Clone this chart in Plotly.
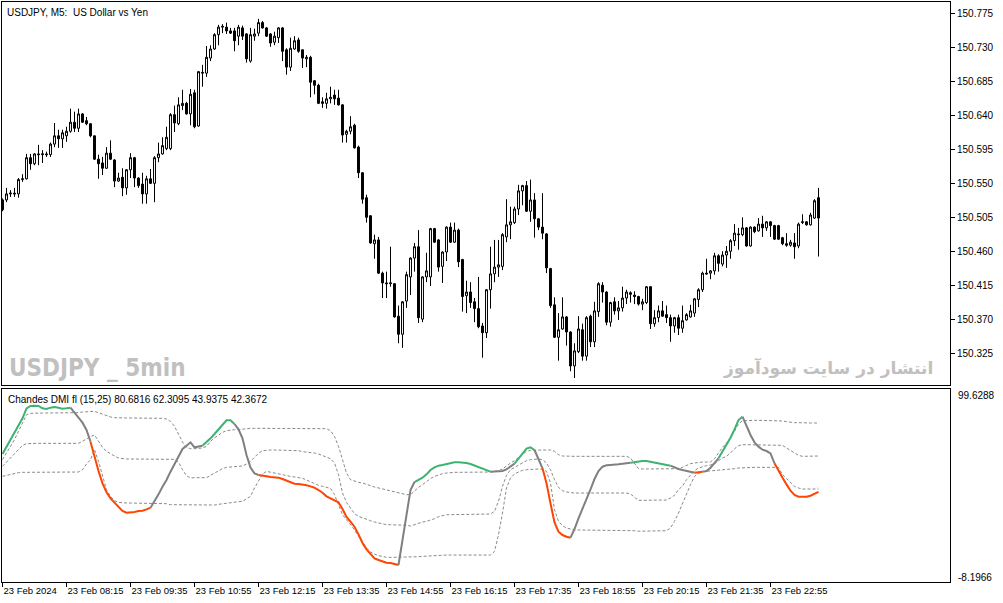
import plotly.graph_objects as go

# USDJPY M5, 23 Feb 2024, 06:55 .. 23:55
open_prices = [
    150.528, 150.528, 150.536, 150.537, 150.536, 150.555, 150.556, 150.584, 150.576, 150.589,
    150.588, 150.589, 150.588, 150.602, 150.613, 150.609, 150.613, 150.619, 150.631, 150.623,
    150.642, 150.633, 150.629, 150.613, 150.582, 150.577, 150.570, 150.590, 150.581, 150.553,
    150.558, 150.544, 150.568, 150.584, 150.557, 150.549, 150.536, 150.556, 150.550, 150.584,
    150.589, 150.596, 150.596, 150.641, 150.629, 150.653, 150.656, 150.642, 150.670, 150.626,
    150.696, 150.696, 150.716, 150.728, 150.747, 150.757, 150.757, 150.752, 150.752, 150.745,
    150.756, 150.748, 150.712, 150.745, 150.749, 150.763, 150.756, 150.748, 150.737, 150.743,
    150.756, 150.727, 150.704, 150.728, 150.740, 150.727, 150.715, 150.717, 150.686, 150.680,
    150.658, 150.656, 150.662, 150.667, 150.663, 150.654, 150.615, 150.619, 150.627, 150.598,
    150.564, 150.531, 150.507, 150.470, 150.475, 150.431, 150.418, 150.417, 150.417, 150.374,
    150.350, 150.394, 150.426, 150.451, 150.466, 150.370, 150.426, 150.426, 150.490, 150.475,
    150.440, 150.459, 150.492, 150.472, 150.488, 150.449, 150.401, 150.406, 150.393, 150.384,
    150.361, 150.352, 150.409, 150.430, 150.439, 150.440, 150.479, 150.495, 150.498, 150.516,
    150.540, 150.547, 150.513, 150.528, 150.503, 150.492, 150.483, 150.437, 150.389, 150.346,
    150.357, 150.373, 150.353, 150.308, 150.327, 150.356, 150.321, 150.374, 150.340, 150.380,
    150.415, 150.406, 150.366, 150.393, 150.381, 150.385, 150.398, 150.405, 150.402, 150.400,
    150.390, 150.392, 150.413, 150.364, 150.372, 150.381, 150.376, 150.372, 150.361, 150.372,
    150.358, 150.369, 150.373, 150.378, 150.396, 150.409, 150.431, 150.431, 150.434, 150.454,
    150.443, 150.455, 150.460, 150.474, 150.483, 150.482, 150.491, 150.467, 150.492, 150.487,
    150.496, 150.491, 150.499, 150.494, 150.494, 150.478, 150.470, 150.468, 150.471, 150.467,
    150.498, 150.499, 150.495, 150.504, 150.531,
]
high_prices = [
    150.530, 150.544, 150.541, 150.544, 150.557, 150.562, 150.589, 150.589, 150.590, 150.601,
    150.594, 150.592, 150.604, 150.630, 150.621, 150.621, 150.625, 150.649, 150.645, 150.649,
    150.643, 150.638, 150.630, 150.613, 150.588, 150.585, 150.598, 150.607, 150.582, 150.564,
    150.570, 150.569, 150.590, 150.585, 150.558, 150.564, 150.560, 150.569, 150.586, 150.604,
    150.611, 150.625, 150.643, 150.653, 150.664, 150.674, 150.658, 150.675, 150.674, 150.699,
    150.707, 150.732, 150.733, 150.749, 150.760, 150.761, 150.763, 150.756, 150.756, 150.760,
    150.759, 150.749, 150.756, 150.755, 150.768, 150.765, 150.757, 150.749, 150.751, 150.757,
    150.757, 150.729, 150.743, 150.745, 150.743, 150.727, 150.720, 150.719, 150.687, 150.682,
    150.664, 150.670, 150.678, 150.674, 150.674, 150.655, 150.621, 150.639, 150.629, 150.600,
    150.565, 150.535, 150.508, 150.482, 150.479, 150.433, 150.433, 150.466, 150.418, 150.388,
    150.394, 150.433, 150.452, 150.471, 150.488, 150.427, 150.458, 150.491, 150.491, 150.476,
    150.460, 150.493, 150.498, 150.498, 150.490, 150.450, 150.421, 150.419, 150.398, 150.426,
    150.365, 150.410, 150.466, 150.475, 150.475, 150.484, 150.529, 150.519, 150.519, 150.548,
    150.548, 150.553, 150.555, 150.537, 150.504, 150.537, 150.484, 150.438, 150.399, 150.378,
    150.399, 150.374, 150.354, 150.338, 150.374, 150.364, 150.374, 150.376, 150.393, 150.419,
    150.419, 150.407, 150.393, 150.399, 150.394, 150.413, 150.409, 150.407, 150.407, 150.401,
    150.397, 150.414, 150.414, 150.382, 150.388, 150.394, 150.388, 150.376, 150.373, 150.376,
    150.388, 150.378, 150.389, 150.398, 150.411, 150.433, 150.450, 150.435, 150.458, 150.456,
    150.460, 150.467, 150.476, 150.496, 150.491, 150.505, 150.492, 150.493, 150.493, 150.504,
    150.507, 150.500, 150.500, 150.495, 150.495, 150.479, 150.484, 150.475, 150.484, 150.498,
    150.509, 150.500, 150.511, 150.529, 150.544,
]
low_prices = [
    150.513, 150.525, 150.532, 150.532, 150.531, 150.552, 150.555, 150.568, 150.574, 150.574,
    150.577, 150.585, 150.585, 150.598, 150.597, 150.597, 150.605, 150.617, 150.618, 150.618,
    150.630, 150.627, 150.611, 150.581, 150.556, 150.561, 150.569, 150.581, 150.545, 150.552,
    150.533, 150.535, 150.557, 150.545, 150.544, 150.523, 150.523, 150.549, 150.525, 150.578,
    150.588, 150.594, 150.594, 150.618, 150.627, 150.647, 150.641, 150.627, 150.623, 150.625,
    150.678, 150.691, 150.712, 150.727, 150.733, 150.749, 150.748, 150.748, 150.725, 150.733,
    150.740, 150.710, 150.710, 150.739, 150.745, 150.755, 150.744, 150.731, 150.733, 150.736,
    150.712, 150.694, 150.699, 150.727, 150.723, 150.703, 150.704, 150.664, 150.668, 150.655,
    150.650, 150.649, 150.656, 150.654, 150.653, 150.604, 150.604, 150.615, 150.596, 150.557,
    150.523, 150.498, 150.470, 150.450, 150.430, 150.398, 150.398, 150.413, 150.372, 150.338,
    150.332, 150.385, 150.402, 150.433, 150.365, 150.366, 150.419, 150.414, 150.471, 150.433,
    150.418, 150.447, 150.471, 150.471, 150.439, 150.380, 150.378, 150.385, 150.366, 150.358,
    150.319, 150.345, 150.384, 150.419, 150.426, 150.435, 150.472, 150.476, 150.496, 150.508,
    150.521, 150.512, 150.499, 150.478, 150.488, 150.476, 150.431, 150.385, 150.345, 150.315,
    150.356, 150.335, 150.301, 150.292, 150.325, 150.315, 150.315, 150.333, 150.333, 150.373,
    150.392, 150.362, 150.360, 150.376, 150.369, 150.380, 150.390, 150.392, 150.390, 150.388,
    150.382, 150.390, 150.357, 150.360, 150.366, 150.373, 150.365, 150.340, 150.352, 150.349,
    150.352, 150.368, 150.372, 150.373, 150.386, 150.406, 150.429, 150.423, 150.429, 150.433,
    150.440, 150.438, 150.450, 150.467, 150.462, 150.480, 150.466, 150.466, 150.484, 150.486,
    150.479, 150.487, 150.479, 150.475, 150.475, 150.468, 150.466, 150.466, 150.450, 150.464,
    150.496, 150.494, 150.494, 150.503, 150.453,
]
close_prices = [
    150.515, 150.536, 150.537, 150.536, 150.555, 150.556, 150.584, 150.576, 150.589, 150.588,
    150.589, 150.588, 150.602, 150.613, 150.609, 150.617, 150.619, 150.631, 150.623, 150.642,
    150.631, 150.629, 150.613, 150.582, 150.576, 150.570, 150.590, 150.582, 150.553, 150.557,
    150.544, 150.568, 150.584, 150.557, 150.547, 150.536, 150.556, 150.550, 150.584, 150.589,
    150.600, 150.611, 150.641, 150.630, 150.654, 150.656, 150.642, 150.668, 150.625, 150.698,
    150.697, 150.717, 150.728, 150.747, 150.757, 150.758, 150.752, 150.749, 150.739, 150.757,
    150.745, 150.715, 150.747, 150.748, 150.763, 150.756, 150.745, 150.736, 150.745, 150.756,
    150.725, 150.704, 150.729, 150.739, 150.725, 150.716, 150.717, 150.684, 150.680, 150.656,
    150.656, 150.662, 150.664, 150.662, 150.654, 150.614, 150.619, 150.625, 150.597, 150.564,
    150.529, 150.505, 150.471, 150.475, 150.431, 150.418, 150.417, 150.418, 150.373, 150.350,
    150.393, 150.429, 150.451, 150.466, 150.372, 150.426, 150.434, 150.490, 150.472, 150.439,
    150.459, 150.492, 150.472, 150.488, 150.446, 150.400, 150.406, 150.392, 150.384, 150.360,
    150.352, 150.409, 150.430, 150.439, 150.442, 150.482, 150.495, 150.499, 150.516, 150.540,
    150.547, 150.513, 150.528, 150.503, 150.492, 150.484, 150.438, 150.388, 150.346, 150.356,
    150.373, 150.353, 150.308, 150.328, 150.357, 150.321, 150.372, 150.340, 150.381, 150.417,
    150.406, 150.366, 150.392, 150.381, 150.385, 150.398, 150.406, 150.403, 150.400, 150.390,
    150.393, 150.413, 150.364, 150.372, 150.381, 150.374, 150.372, 150.361, 150.372, 150.358,
    150.368, 150.376, 150.381, 150.397, 150.409, 150.431, 150.430, 150.434, 150.454, 150.444,
    150.455, 150.460, 150.474, 150.484, 150.482, 150.491, 150.467, 150.492, 150.486, 150.496,
    150.491, 150.499, 150.494, 150.476, 150.476, 150.470, 150.468, 150.472, 150.466, 150.496,
    150.499, 150.495, 150.508, 150.527, 150.504,
]

# Chande DMI with floating levels (15,25)
dmi_main = [
    63.42, 67.51, 71.22, 74.93, 79.20, 83.29, 88.86, 90.16, 90.35, 90.16,
    88.86, 88.49, 89.23, 89.60, 89.23, 88.68, 88.86, 89.23, 86.63, 84.03,
    80.88, 76.79, 70.29, 61.38, 53.95, 47.08, 42.06, 38.72, 36.49, 33.89,
    31.67, 30.74, 30.74, 31.11, 31.67, 31.85, 32.59, 33.52, 36.86, 40.95,
    45.22, 48.94, 53.58, 58.03, 62.49, 66.21, 68.06, 69.92, 67.13, 67.51,
    68.06, 69.92, 72.15, 74.56, 77.16, 80.13, 82.18, 82.18, 80.13, 77.16,
    72.15, 62.86, 55.81, 52.65, 51.72, 51.54, 50.98, 50.61, 50.42, 50.24,
    49.49, 48.56, 47.45, 46.89, 46.71, 46.52, 45.96, 45.41, 44.66, 43.36,
    41.88, 39.84, 38.72, 37.79, 36.49, 32.78, 28.32, 25.72, 22.94, 18.67,
    13.84, 10.31, 7.52, 5.30, 4.37, 3.44, 2.88, 2.70, 2.32, 1.58,
    16.44, 30.37, 43.36, 47.82, 48.94, 50.24, 52.09, 54.51, 55.99, 56.92,
    57.29, 57.85, 58.41, 58.78, 58.78, 58.78, 58.41, 57.85, 56.92, 56.18,
    55.25, 54.14, 53.58, 53.58, 53.58, 53.95, 54.88, 56.36, 58.03, 60.63,
    63.79, 66.39, 67.13, 65.65, 60.63, 55.43, 47.08, 35.94, 25.35, 20.15,
    18.29, 17.37, 16.81, 21.64, 27.58, 32.78, 37.79, 43.74, 49.49, 53.95,
    56.36, 57.11, 57.29, 57.29, 57.66, 58.03, 58.41, 58.59, 58.96, 59.33,
    59.52, 59.52, 59.15, 58.78, 58.41, 58.03, 57.48, 56.92, 55.81, 55.06,
    54.51, 53.95, 53.39, 53.02, 53.21, 53.58, 53.95, 55.81, 58.22, 61.01,
    64.72, 68.43, 72.52, 77.16, 82.36, 84.22, 78.65, 74.00, 69.92, 67.51,
    65.83, 65.09, 63.79, 58.22, 53.95, 50.24, 46.52, 42.99, 40.58, 39.65,
    39.65, 39.65, 40.21, 41.32, 42.37,
]
upper_level = [
    60.26, 63.98, 67.69, 71.41, 76.05, 80.69, 85.33, 86.08, 86.26, 86.26,
    86.26, 86.26, 86.26, 86.26, 86.26, 86.26, 86.26, 86.26, 86.26, 86.45,
    86.82, 87.01, 87.19, 87.19, 86.45, 85.52, 84.59, 84.03, 83.66, 83.48,
    83.48, 83.48, 83.48, 83.48, 83.48, 83.48, 83.29, 83.29, 83.29, 83.29,
    83.29, 82.92, 81.62, 78.83, 74.56, 70.11, 67.14, 66.39, 66.39, 66.58,
    66.76, 67.69, 70.48, 72.33, 74.01, 75.49, 76.42, 76.79, 76.98, 76.98,
    77.35, 77.72, 77.72, 77.72, 77.72, 77.72, 77.72, 77.72, 77.72, 77.72,
    77.72, 77.53, 77.53, 77.53, 77.53, 77.53, 77.53, 77.53, 77.53, 77.53,
    77.53, 77.53, 76.42, 73.26, 67.69, 60.26, 52.84, 49.12, 48.19, 47.64,
    47.27, 46.34, 45.78, 45.04, 44.48, 43.92, 43.37, 42.99, 42.25, 41.69,
    41.14, 40.77, 40.77, 42.99, 44.85, 46.34, 48.19, 49.68, 50.98, 51.91,
    52.47, 52.84, 53.21, 53.21, 53.21, 53.21, 53.21, 53.21, 53.39, 53.39,
    53.39, 53.39, 53.39, 53.76, 54.14, 55.06, 56.92, 58.41, 59.71, 61.56,
    63.42, 64.91, 65.46, 65.65, 65.65, 65.65, 65.65, 65.65, 64.91, 63.05,
    62.31, 62.12, 62.12, 62.12, 62.12, 62.12, 62.12, 62.12, 62.12, 62.12,
    62.12, 62.12, 62.12, 62.12, 62.12, 62.12, 62.12, 61.19, 58.41, 55.25,
    55.06, 55.06, 55.06, 55.06, 55.06, 55.06, 55.06, 55.25, 55.25, 55.25,
    55.99, 56.92, 58.04, 58.41, 58.78, 58.96, 58.96, 58.96, 60.82, 64.35,
    67.14, 69.55, 72.33, 76.05, 80.13, 81.99, 82.18, 82.18, 82.18, 82.18,
    82.18, 82.18, 82.18, 82.18, 82.18, 81.81, 81.43, 81.06, 80.88, 80.88,
    80.69, 80.69, 80.69, 80.69, 80.68,
]
middle_level = [
    56.55, 58.96, 61.56, 63.98, 66.21, 68.25, 69.18, 69.36, 69.36, 69.36,
    69.36, 69.36, 69.36, 69.36, 69.36, 69.36, 69.36, 69.36, 69.36, 69.36,
    70.48, 71.96, 73.08, 74.01, 70.85, 67.14, 64.91, 63.42, 62.31, 61.19,
    60.82, 60.64, 60.64, 60.64, 60.64, 60.64, 60.64, 60.64, 60.45, 60.45,
    60.45, 60.45, 60.45, 60.45, 58.96, 54.69, 51.35, 50.05, 50.24, 50.24,
    50.24, 50.24, 51.54, 52.84, 54.32, 55.25, 55.99, 56.18, 56.36, 56.55,
    56.74, 57.85, 59.34, 61.56, 63.79, 65.28, 65.65, 65.65, 65.65, 65.65,
    65.65, 65.28, 65.28, 65.28, 65.28, 64.72, 64.54, 64.35, 63.98, 63.42,
    62.68, 61.75, 60.82, 58.41, 51.91, 41.69, 36.49, 33.34, 30.18, 28.70,
    27.77, 26.84, 26.28, 25.54, 24.98, 24.42, 24.05, 24.05, 24.05, 24.05,
    24.05, 23.68, 23.31, 24.05, 24.98, 25.54, 25.91, 26.47, 27.40, 28.51,
    29.25, 29.62, 29.62, 29.62, 29.62, 29.62, 29.62, 29.62, 29.62, 29.62,
    29.62, 29.62, 30.00, 31.48, 37.05, 45.41, 51.54, 54.69, 55.99, 57.48,
    58.59, 59.71, 60.26, 60.45, 60.64, 60.26, 58.41, 54.69, 49.12, 44.85,
    42.99, 42.25, 41.88, 41.69, 41.69, 41.69, 41.69, 41.69, 41.69, 41.69,
    41.69, 41.69, 41.69, 41.69, 41.69, 41.69, 41.69, 41.14, 39.28, 37.61,
    37.61, 37.61, 37.61, 37.61, 37.61, 37.61, 37.80, 38.91, 40.39, 43.55,
    45.59, 49.12, 51.91, 54.14, 55.62, 56.36, 56.92, 57.29, 58.04, 59.71,
    61.19, 62.12, 63.98, 66.39, 68.06, 68.62, 68.62, 68.62, 68.62, 68.62,
    68.62, 68.62, 68.62, 68.62, 68.62, 68.25, 66.76, 65.28, 63.98, 62.68,
    62.12, 62.12, 62.12, 62.12, 62.31,
]
lower_level = [
    50.98, 51.54, 52.09, 52.47, 53.02, 53.21, 53.21, 53.21, 53.21, 53.21,
    53.21, 53.21, 53.21, 53.21, 53.21, 53.21, 53.21, 53.21, 53.21, 53.39,
    54.69, 57.85, 60.27, 65.84, 59.34, 50.98, 43.55, 39.84, 37.42, 36.49,
    36.12, 36.12, 36.12, 36.12, 36.12, 36.12, 36.12, 36.12, 36.12, 36.12,
    36.12, 35.75, 35.19, 35.19, 35.19, 35.19, 35.19, 35.19, 34.82, 34.82,
    34.82, 34.82, 34.82, 35.01, 35.38, 35.75, 36.12, 36.31, 36.68, 36.87,
    37.05, 38.35, 39.84, 44.48, 48.56, 52.28, 53.76, 53.39, 53.02, 52.47,
    51.91, 51.35, 50.98, 50.61, 50.24, 49.86, 48.94, 47.82, 46.71, 45.97,
    45.41, 44.85, 44.29, 40.77, 35.19, 29.62, 26.84, 24.05, 21.27, 17.55,
    14.77, 11.05, 8.83, 7.71, 6.78, 6.41, 5.85, 5.85, 5.85, 5.85,
    5.85, 5.85, 5.85, 5.85, 6.22, 6.41, 6.60, 6.78, 6.97, 7.15,
    7.15, 7.15, 7.15, 7.15, 7.15, 7.15, 7.15, 7.15, 7.15, 7.15,
    7.15, 7.15, 7.15, 9.20, 18.48, 30.55, 44.48, 50.05, 52.28, 53.39,
    54.32, 54.69, 54.88, 55.06, 55.06, 54.88, 53.76, 47.27, 32.41, 25.91,
    23.50, 22.20, 21.64, 21.10, 21.10, 21.10, 21.10, 21.10, 21.10, 21.10,
    21.10, 21.10, 21.10, 21.10, 21.10, 21.10, 21.10, 21.10, 20.71, 20.40,
    20.40, 20.40, 20.40, 20.40, 20.40, 20.40, 20.71, 22.20, 25.91, 30.55,
    36.12, 41.69, 46.34, 50.98, 52.65, 53.58, 53.76, 53.95, 54.14, 54.32,
    54.51, 54.69, 54.88, 55.25, 55.62, 55.81, 55.99, 55.99, 55.99, 55.99,
    55.99, 55.99, 55.99, 55.99, 55.99, 51.91, 49.68, 47.27, 45.41, 44.48,
    43.92, 43.92, 43.92, 43.92, 43.94,
]
# line colour state, as (state, number of bars)
trend_runs = [
    ("up", 18), ("flat", 5), ("down", 15), ("flat", 13), ("up", 8), ("flat", 6),
    ("down", 35), ("flat", 4), ("up", 19), ("flat", 6), ("up", 5), ("flat", 2),
    ("down", 7), ("flat", 15), ("up", 10), ("flat", 6), ("down", 2), ("flat", 4),
    ("up", 6), ("flat", 8), ("down", 11),
]

time_labels = ["23 Feb 2024", "23 Feb 08:15", "23 Feb 09:35", "23 Feb 10:55",
               "23 Feb 12:15", "23 Feb 13:35", "23 Feb 14:55", "23 Feb 16:15",
               "23 Feb 17:35", "23 Feb 18:55", "23 Feb 20:15", "23 Feb 21:35",
               "23 Feb 22:55"]
price_ticks = [150.325, 150.370, 150.415, 150.460, 150.505, 150.550,
               150.595, 150.640, 150.685, 150.730, 150.775]

trend_colors = {"up": "#3cb371", "down": "#ff4500", "flat": "#808080"}
FONT = "Liberation Sans, Arial, sans-serif"

bars = list(range(len(close_prices)))
label_bars = bars[::16]

fig = go.Figure()

fig.add_trace(go.Candlestick(
    x=bars, open=open_prices, high=high_prices, low=low_prices, close=close_prices,
    increasing=dict(line=dict(color="black", width=1), fillcolor="white"),
    decreasing=dict(line=dict(color="black", width=1), fillcolor="black"),
    whiskerwidth=0, showlegend=False, hoverinfo="skip",
    xaxis="x", yaxis="y",
))

# floating levels (dashed)
for lvl in (upper_level, middle_level, lower_level):
    fig.add_trace(go.Scatter(
        x=bars, y=lvl, mode="lines",
        line=dict(color="#8a8a8a", width=1, dash="3px,2px"),
        showlegend=False, hoverinfo="skip", xaxis="x2", yaxis="y2",
    ))

# colour-coded DMI line
pos = 0
for state, n in trend_runs:
    a = max(pos - 1, 0)
    b = pos + n
    fig.add_trace(go.Scatter(
        x=bars[a:b], y=dmi_main[a:b], mode="lines",
        line=dict(color=trend_colors[state], width=2),
        showlegend=False, hoverinfo="skip", xaxis="x2", yaxis="y2",
    ))
    pos += n

x_range = [-0.125, 236.875]
axis_common = dict(showgrid=False, zeroline=False, showline=True, mirror=True,
                   linecolor="black", linewidth=1, automargin=False)

fig.update_layout(
    width=1003, height=603,
    margin=dict(l=2, r=53, t=2, b=21, autoexpand=False),
    paper_bgcolor="white", plot_bgcolor="white",
    font=dict(family=FONT, size=10, color="black"),
    xaxis=dict(domain=[0, 1], anchor="y", range=x_range, showticklabels=False,
               ticks="", rangeslider=dict(visible=False), **axis_common),
    yaxis=dict(domain=[0.3397, 1], anchor="x", range=[150.2828, 150.7903], side="right",
               tickvals=price_ticks, tickformat=".3f", ticks="outside", ticklen=4,
               tickcolor="black", tickfont=dict(size=10), **axis_common),
    xaxis2=dict(domain=[0, 1], anchor="y2", matches="x", range=x_range,
                tickvals=label_bars, ticktext=time_labels, ticks="outside", ticklen=4,
                tickcolor="black", ticklabelposition="outside right", tickangle=0,
                tickfont=dict(size=9.5), **axis_common),
    yaxis2=dict(domain=[0, 0.3336], anchor="x2", range=[-7.87, 99.9], side="right",
                showticklabels=False, ticks="", **axis_common),
    annotations=[
        dict(text="USDJPY, M5:  US Dollar vs Yen", xref="paper", yref="paper",
             x=0.003, y=0.995, xanchor="left", yanchor="top", showarrow=False,
             font=dict(size=10)),
        dict(text="Chandes DMI fl (15,25) 80.6816 62.3095 43.9375 42.3672",
             xref="paper", yref="paper", x=0.004, y=0.328, xanchor="left",
             yanchor="top", showarrow=False, font=dict(size=10)),
        dict(text="<b>USDJPY _ 5min</b>", xref="paper", yref="paper",
             x=0.005, y=0.369, xanchor="left", yanchor="middle", showarrow=False,
             font=dict(family="Liberation Sans Narrow, DejaVu Sans Condensed, Liberation Sans",
                       size=24, color="#c0c0c0")),
        dict(text="<b>انتشار در سایت سودآموز</b>", xref="paper", yref="paper",
             x=0.984, y=0.369, xanchor="right", yanchor="middle", showarrow=False,
             font=dict(family="DejaVu Sans", size=17, color="#c0c0c0")),
        dict(text="99.6288", xref="paper", yref="paper", x=1.006, y=0.3224,
             xanchor="left", yanchor="middle", showarrow=False, font=dict(size=10)),
        dict(text="-8.1966", xref="paper", yref="paper", x=1.006, y=0.0086,
             xanchor="left", yanchor="middle", showarrow=False, font=dict(size=10)),
    ],
)

# the page's default body margin would shift the chart by 8px
fig.write_html("out.html", config={"displayModeBar": False},
               post_script="document.body.style.margin='0';document.body.style.overflow='hidden';")
